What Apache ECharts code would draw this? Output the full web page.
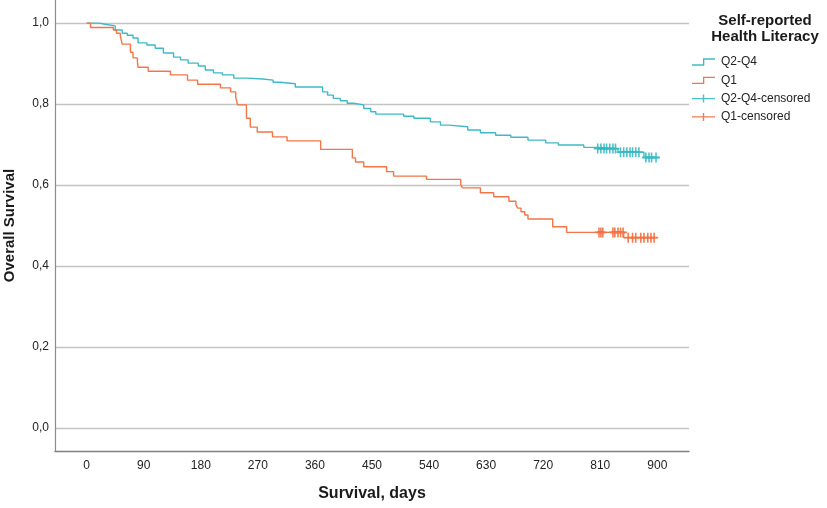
<!DOCTYPE html>
<html>
<head>
<meta charset="utf-8">
<script src="https://cdn.jsdelivr.net/npm/echarts@6/dist/echarts.min.js"></script>
<style>
html,body{margin:0;padding:0;background:#fff;}
#chart{width:827px;height:508px;}
</style>
</head>
<body>
<div id="chart"></div>
<script>
// ---- data ----
const xTicks = [0, 90, 180, 270, 360, 450, 540, 630, 720, 810, 900];
const yTicks = [0, 0.2, 0.4, 0.6, 0.8, 1.0];

const q2q4Days = [0, 20, 29, 45, 56, 64, 73, 81, 95, 108, 121, 137, 148, 160, 176, 187, 200, 214, 232, 253, 278, 294, 305, 329, 372, 380, 389, 400, 411, 421, 437, 448, 456, 500, 516, 542, 558, 571, 601, 621, 645, 669, 696, 724, 744, 784, 810, 838, 879, 902];
const q2q4Surv = [1.0, 0.997, 0.993, 0.983, 0.975, 0.970, 0.963, 0.951, 0.946, 0.938, 0.926, 0.916, 0.909, 0.901, 0.894, 0.884, 0.877, 0.872, 0.864, 0.862, 0.859, 0.854, 0.850, 0.842, 0.830, 0.822, 0.814, 0.808, 0.802, 0.798, 0.789, 0.781, 0.775, 0.770, 0.765, 0.756, 0.748, 0.744, 0.736, 0.729, 0.723, 0.718, 0.711, 0.704, 0.699, 0.693, 0.690, 0.681, 0.668, 0.668];

const q1Days = [0, 6, 42, 47, 53, 56, 69, 73, 80, 81, 97, 132, 159, 175, 211, 227, 235, 238, 252, 258, 269, 293, 316, 369, 419, 424, 437, 473, 484, 536, 590, 593, 621, 642, 666, 677, 680, 685, 691, 696, 735, 757, 847, 900];
const q1Surv = [1.0, 0.989, 0.983, 0.975, 0.968, 0.948, 0.928, 0.914, 0.904, 0.891, 0.881, 0.872, 0.859, 0.849, 0.840, 0.830, 0.817, 0.798, 0.765, 0.743, 0.731, 0.719, 0.709, 0.688, 0.667, 0.657, 0.645, 0.633, 0.622, 0.614, 0.600, 0.593, 0.581, 0.571, 0.560, 0.551, 0.543, 0.534, 0.526, 0.516, 0.497, 0.483, 0.470, 0.470];

const q2q4CensDays = [806, 811, 816, 820, 825, 830, 834, 842, 847, 852, 857, 861, 866, 871, 882, 887, 891, 898];
const q2q4CensSurv = [0.690, 0.690, 0.690, 0.690, 0.690, 0.690, 0.690, 0.681, 0.681, 0.681, 0.681, 0.681, 0.681, 0.681, 0.668, 0.668, 0.668, 0.668];

const q1CensDays = [808, 811, 814, 830, 833, 838, 842, 846, 854, 861, 866, 874, 879, 885, 890, 895];
const q1CensSurv = [0.483, 0.483, 0.483, 0.483, 0.483, 0.483, 0.483, 0.483, 0.470, 0.470, 0.470, 0.470, 0.470, 0.470, 0.470, 0.470];

const seriesNames = ['Q2-Q4', 'Q1', 'Q2-Q4-censored', 'Q1-censored'];
const legendTitle = 'Self-reported\nHealth Literacy';
const xTitle = 'Survival, days';
const yTitle = 'Overall Survival';

// ---- build ----
const zip = (a, b) => a.map((v, i) => [v, b[i]]);
const FONT = '"Liberation Sans", Arial, sans-serif';
const TEAL = '#3fbac5', TEAL_M = '#1fb0bd';
const ORANGE = '#f2764a', ORANGE_M = '#f05a26';
const plusPath = 'path://M4,0H6V10H4Z M0,4.1H10V5.9H0Z';
const stepIcon = 'path://M0,6H11V0H23V1.3H12.3V7.3H0Z';
const plusIcon = 'path://M10.8,0H12.2V8H10.8Z M0,3.4H23V4.7H0Z';

const chart = echarts.init(document.getElementById('chart'), null, {renderer: 'canvas'});
chart.setOption({
  animation: false,
  backgroundColor: '#fff',
  title: {
    text: legendTitle,
    left: 760,
    top: 8,
    textAlign: 'center',
    textStyle: {fontFamily: FONT, fontWeight: 'bold', fontSize: 15, lineHeight: 16, color: '#1a1a1a'}
  },
  legend: {
    orient: 'vertical',
    left: 692,
    top: 56,
    padding: 0,
    itemWidth: 23,
    itemHeight: 8,
    itemGap: 6.3,
    selectedMode: false,
    itemStyle: {borderWidth: 0},
    textStyle: {fontFamily: FONT, fontSize: 12, lineHeight: 12, color: '#222', padding: [0, 0, 0, 1]},
    data: [
      {name: seriesNames[0], icon: stepIcon},
      {name: seriesNames[1], icon: stepIcon},
      {name: seriesNames[2], icon: plusIcon},
      {name: seriesNames[3], icon: plusIcon}
    ]
  },
  grid: {left: 55, right: 138, top: 0, bottom: 57, containLabel: false, outerBoundsMode: 'none'},
  xAxis: {
    type: 'value',
    min: -50,
    max: 950,
    name: xTitle,
    nameLocation: 'middle',
    nameGap: 35,
    nameTextStyle: {fontFamily: FONT, fontWeight: 'bold', fontSize: 16, color: '#1a1a1a'},
    axisLine: {onZero: false, lineStyle: {color: '#808080', width: 1.4}},
    axisTick: {show: false},
    splitLine: {show: false},
    axisLabel: {customValues: xTicks, margin: 9, fontFamily: FONT, fontSize: 12, color: '#222'}
  },
  yAxis: {
    type: 'value',
    min: -0.057,
    max: 1.057,
    splitNumber: 5,
    name: yTitle,
    nameLocation: 'middle',
    nameGap: 38,
    nameTextStyle: {fontFamily: FONT, fontWeight: 'bold', fontSize: 15, color: '#1a1a1a'},
    axisLine: {show: true, onZero: false, lineStyle: {color: '#8c8c8c', width: 1.2}},
    axisTick: {show: false},
    splitLine: {show: true, showMinLine: false, showMaxLine: false, lineStyle: {color: '#c4c4c4', width: 1.3}},
    axisLabel: {
      customValues: yTicks,
      margin: 6,
      fontFamily: FONT, fontSize: 12, color: '#222',
      formatter: v => v.toFixed(1).replace('.', ',')
    }
  },
  series: [
    {
      name: seriesNames[0], type: 'line', step: 'end', showSymbol: false, symbol: 'none',
      data: zip(q2q4Days, q2q4Surv),
      lineStyle: {color: TEAL, width: 1.4}, itemStyle: {color: TEAL}
    },
    {
      name: seriesNames[1], type: 'line', step: 'end', showSymbol: false, symbol: 'none',
      data: zip(q1Days, q1Surv),
      lineStyle: {color: ORANGE, width: 1.4}, itemStyle: {color: ORANGE}
    },
    {
      name: seriesNames[2], type: 'scatter', symbol: plusPath, symbolSize: [8, 10],
      data: zip(q2q4CensDays, q2q4CensSurv),
      itemStyle: {color: TEAL_M}
    },
    {
      name: seriesNames[3], type: 'scatter', symbol: plusPath, symbolSize: [8, 10],
      data: zip(q1CensDays, q1CensSurv),
      itemStyle: {color: ORANGE_M}
    }
  ]
});
</script>
</body>
</html>
